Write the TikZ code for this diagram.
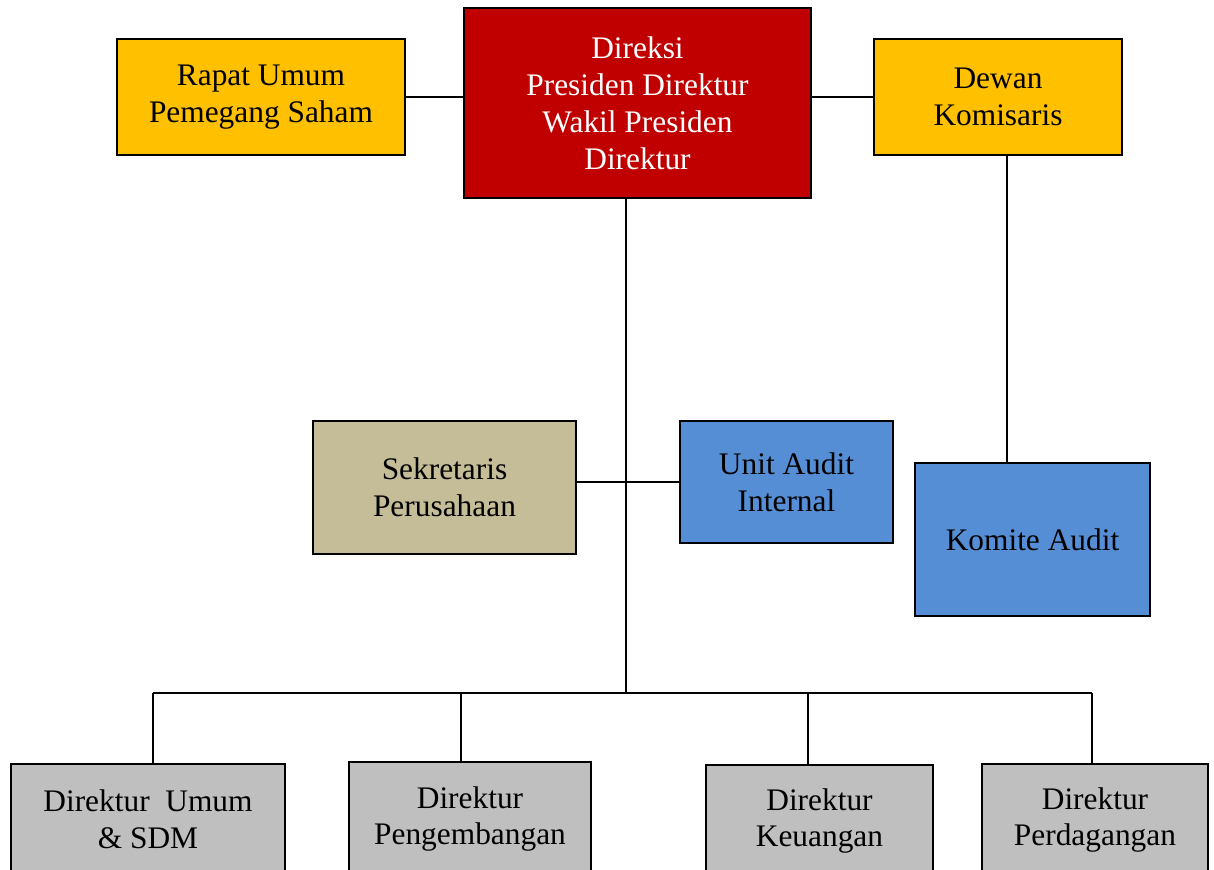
\documentclass[tikz,border=0pt]{standalone}
\usepackage{fontspec}
\setmainfont{Liberation Serif}
\definecolor{gold}{HTML}{FFC000}
\definecolor{darkred}{HTML}{C00000}
\definecolor{tan}{HTML}{C4BD97}
\definecolor{bluebox}{HTML}{558ED5}
\definecolor{graybox}{HTML}{BFBFBF}
\begin{document}
\begin{tikzpicture}[x=1bp,y=-1bp,
  box/.style={draw=black,line width=1.6bp,align=center,inner sep=0pt,
    font=\fontsize{31.5}{37}\selectfont},
  link/.style={draw=black,line width=1.4bp}]
\useasboundingbox[fill=white] (0,0) rectangle (1214,870);
\node[box,fill=gold,minimum width=288bp,minimum height=116bp] (rups) at (261,97) {Rapat Umum\\Pemegang Saham};
\node[box,fill=darkred,text=white,minimum width=347bp,minimum height=190bp] (dir) at (637.5,103) {Direksi\\Presiden Direktur\\Wakil Presiden\\Direktur};
\node[box,fill=gold,minimum width=248bp,minimum height=116bp] (dk) at (998,97) {Dewan\\Komisaris};
\node[box,fill=tan,minimum width=263bp,minimum height=133bp] (sek) at (444.5,487.5) {Sekretaris\\Perusahaan};
\node[box,fill=bluebox,minimum width=213bp,minimum height=122bp] (uai) at (786.5,482) {Unit Audit\\Internal};
\node[box,fill=bluebox,minimum width=235bp,minimum height=153bp] (ka) at (1032.5,539.5) {Komite Audit};
\node[box,fill=graybox,minimum width=274bp,minimum height=111bp] (d1) at (148,819.5) {Direktur\ \ Umum\\\& SDM};
\node[box,fill=graybox,minimum width=242bp,minimum height=114bp] (d2) at (470,819) {Direktur\\Pengembangan};
\node[box,fill=graybox,minimum width=227bp,minimum height=112bp] (d3) at (819.5,821) {Direktur\\Keuangan};
\node[box,fill=graybox,minimum width=226bp,minimum height=112bp] (d4) at (1095,820) {Direktur\\Perdagangan};
\coordinate (j) at (626,693);
\coordinate (bl) at (153,693);
\coordinate (br) at (1092,693);
\coordinate (b2) at (461,693);
\coordinate (b3) at (808,693);
\coordinate (kx) at (1007,0);
\draw[link] (rups.east) -- (dir.west |- rups.east);
\draw[link] (dir.east |- dk.west) -- (dk.west);
\draw[link] (dir.south -| j) -- (j);
\draw[link] (sek.east |- uai.west) -- (uai.west);
\draw[link] (dk.south -| kx) -- (ka.north -| kx);
\draw[link] (bl) -- (br);
\draw[link] (bl) -- (d1.north -| bl);
\draw[link] (b2) -- (d2.north -| b2);
\draw[link] (b3) -- (d3.north -| b3);
\draw[link] (br) -- (d4.north -| br);
\end{tikzpicture}
\end{document}
